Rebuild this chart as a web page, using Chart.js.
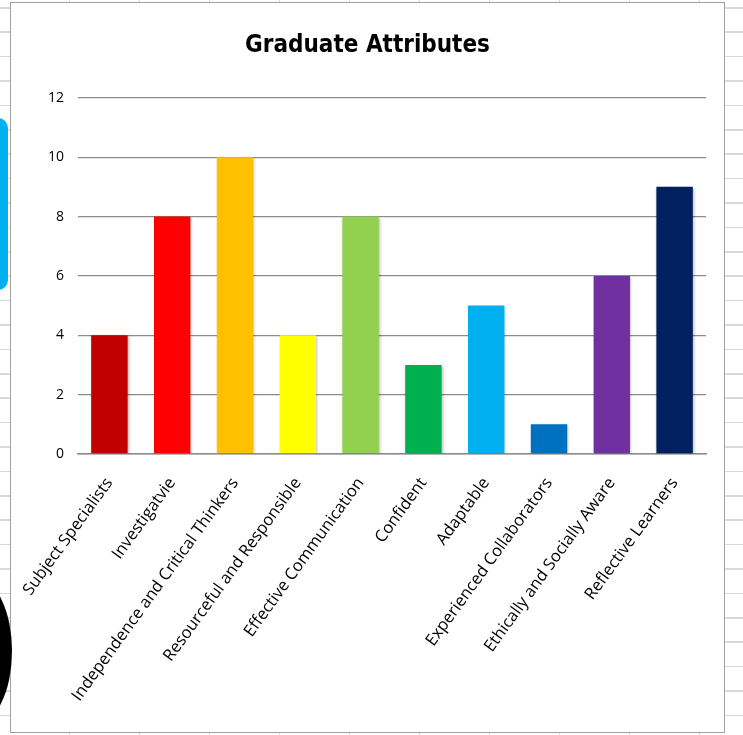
<!DOCTYPE html>
<html>
<head>
<meta charset="utf-8">
<title>Graduate Attributes</title>
<script src="https://cdn.jsdelivr.net/npm/chart.js@4/dist/chart.umd.min.js"></script>
<style>
  html, body {
    margin: 0;
    padding: 0;
  }
  body {
    width: 743px;
    height: 735px;
    position: relative;
    overflow: hidden;
    background-color: #fff;
    background-image:
      repeating-linear-gradient(to bottom, transparent 0, transparent 7px, #d9d9d9 7px, #d9d9d9 8.5px, transparent 8.5px, transparent 24.4px),
      repeating-linear-gradient(to right, transparent 0, transparent 69px, #d9d9d9 69px, #d9d9d9 70px, transparent 70px, transparent 69.5px);
  }
  #box {
    position: absolute;
    left: 10px;
    top: 2px;
    width: 713px;
    height: 729px;
    border: 1px solid #a0a0a0;
    background: #fff;
  }
  #blue {
    position: absolute;
    left: -20px;
    top: 118px;
    width: 28px;
    height: 172px;
    border-radius: 10px;
    background: #00b0f0;
  }
  #blob {
    position: absolute;
    left: -60px;
    top: 578px;
    width: 72px;
    height: 146px;
    border-radius: 50%;
    background: #000;
  }
</style>
</head>
<body>
<div id="box"><canvas id="chart-attributes"></canvas></div>
<div id="blue"></div>
<div id="blob"></div>
<script>
const categories = [
  'Subject Specialists',
  'Investigatvie',
  'Independence and Critical Thinkers',
  'Resourceful and Responsible',
  'Effective Communication',
  'Confident',
  'Adaptable',
  'Experienced Collaborators',
  'Ethically and Socially Aware',
  'Reflective Learners',
]
const counts = [4, 8, 10, 4, 8, 3, 5, 1, 6, 9]
const barColours = [
  '#c00000', '#ff0000', '#ffc000', '#ffff00', '#92d050',
  '#00b050', '#00b0f0', '#0070c0', '#7030a0', '#002060',
]
const yTicks = [0, 2, 4, 6, 8, 10, 12]

// soft drop shadow under the bars, like the Excel default style
const barShadow = {
  id: 'barShadow',
  beforeDatasetsDraw(chart) {
    const ctx = chart.ctx
    ctx.save()
    ctx.shadowColor = 'rgba(0, 0, 0, 0.3)'
    ctx.shadowBlur = 3
    ctx.shadowOffsetX = 1
    ctx.shadowOffsetY = 1
  },
  afterDatasetsDraw(chart) {
    chart.ctx.restore()
  },
}

const element = document.getElementById('chart-attributes')
element.width = 713
element.height = 729

new Chart(element, {
  type: 'bar',
  data: {
    labels: categories,
    datasets: [
      {
        label: 'Graduate Attributes',
        data: counts,
        backgroundColor: barColours,
        borderWidth: 0,
        barPercentage: 0.58,
        categoryPercentage: 1,
      },
    ],
  },
  plugins: [barShadow],
  options: {
    responsive: false,
    animation: false,
    devicePixelRatio: 1,
    layout: {
      padding: { left: 18, right: 18, top: 0, bottom: 0 },
    },
    plugins: {
      legend: { display: false },
      tooltip: { enabled: false },
      title: {
        display: true,
        text: 'Graduate Attributes',
        color: '#000',
        font: { family: 'DejaVu Sans Condensed', size: 24, weight: 'bold' },
        padding: { top: 28, bottom: 38 },
      },
    },
    scales: {
      y: {
        min: 0,
        max: 12,
        afterBuildTicks: (scale) => {
          scale.ticks = yTicks.map((v) => ({ value: v }))
        },
        afterFit: (scale) => {
          scale.width = 49
        },
        border: { display: false },
        grid: {
          color: '#8c8c8c',
          lineWidth: 1.3,
          drawTicks: false,
        },
        ticks: {
          color: '#000',
          padding: 14,
          font: { family: 'Open Sans', size: 14 },
        },
      },
      x: {
        afterFit: (scale) => {
          scale.height = 278
          scale.paddingLeft = 0
          scale.paddingRight = 0
        },
        border: { display: true, color: '#8c8c8c', width: 1.5 },
        grid: { display: false, drawTicks: false },
        ticks: {
          color: '#000',
          autoSkip: false,
          maxRotation: 54,
          minRotation: 54,
          padding: 20,
          font: { family: 'Open Sans', size: 16.5 },
        },
      },
    },
  },
})
</script>
</body>
</html>
